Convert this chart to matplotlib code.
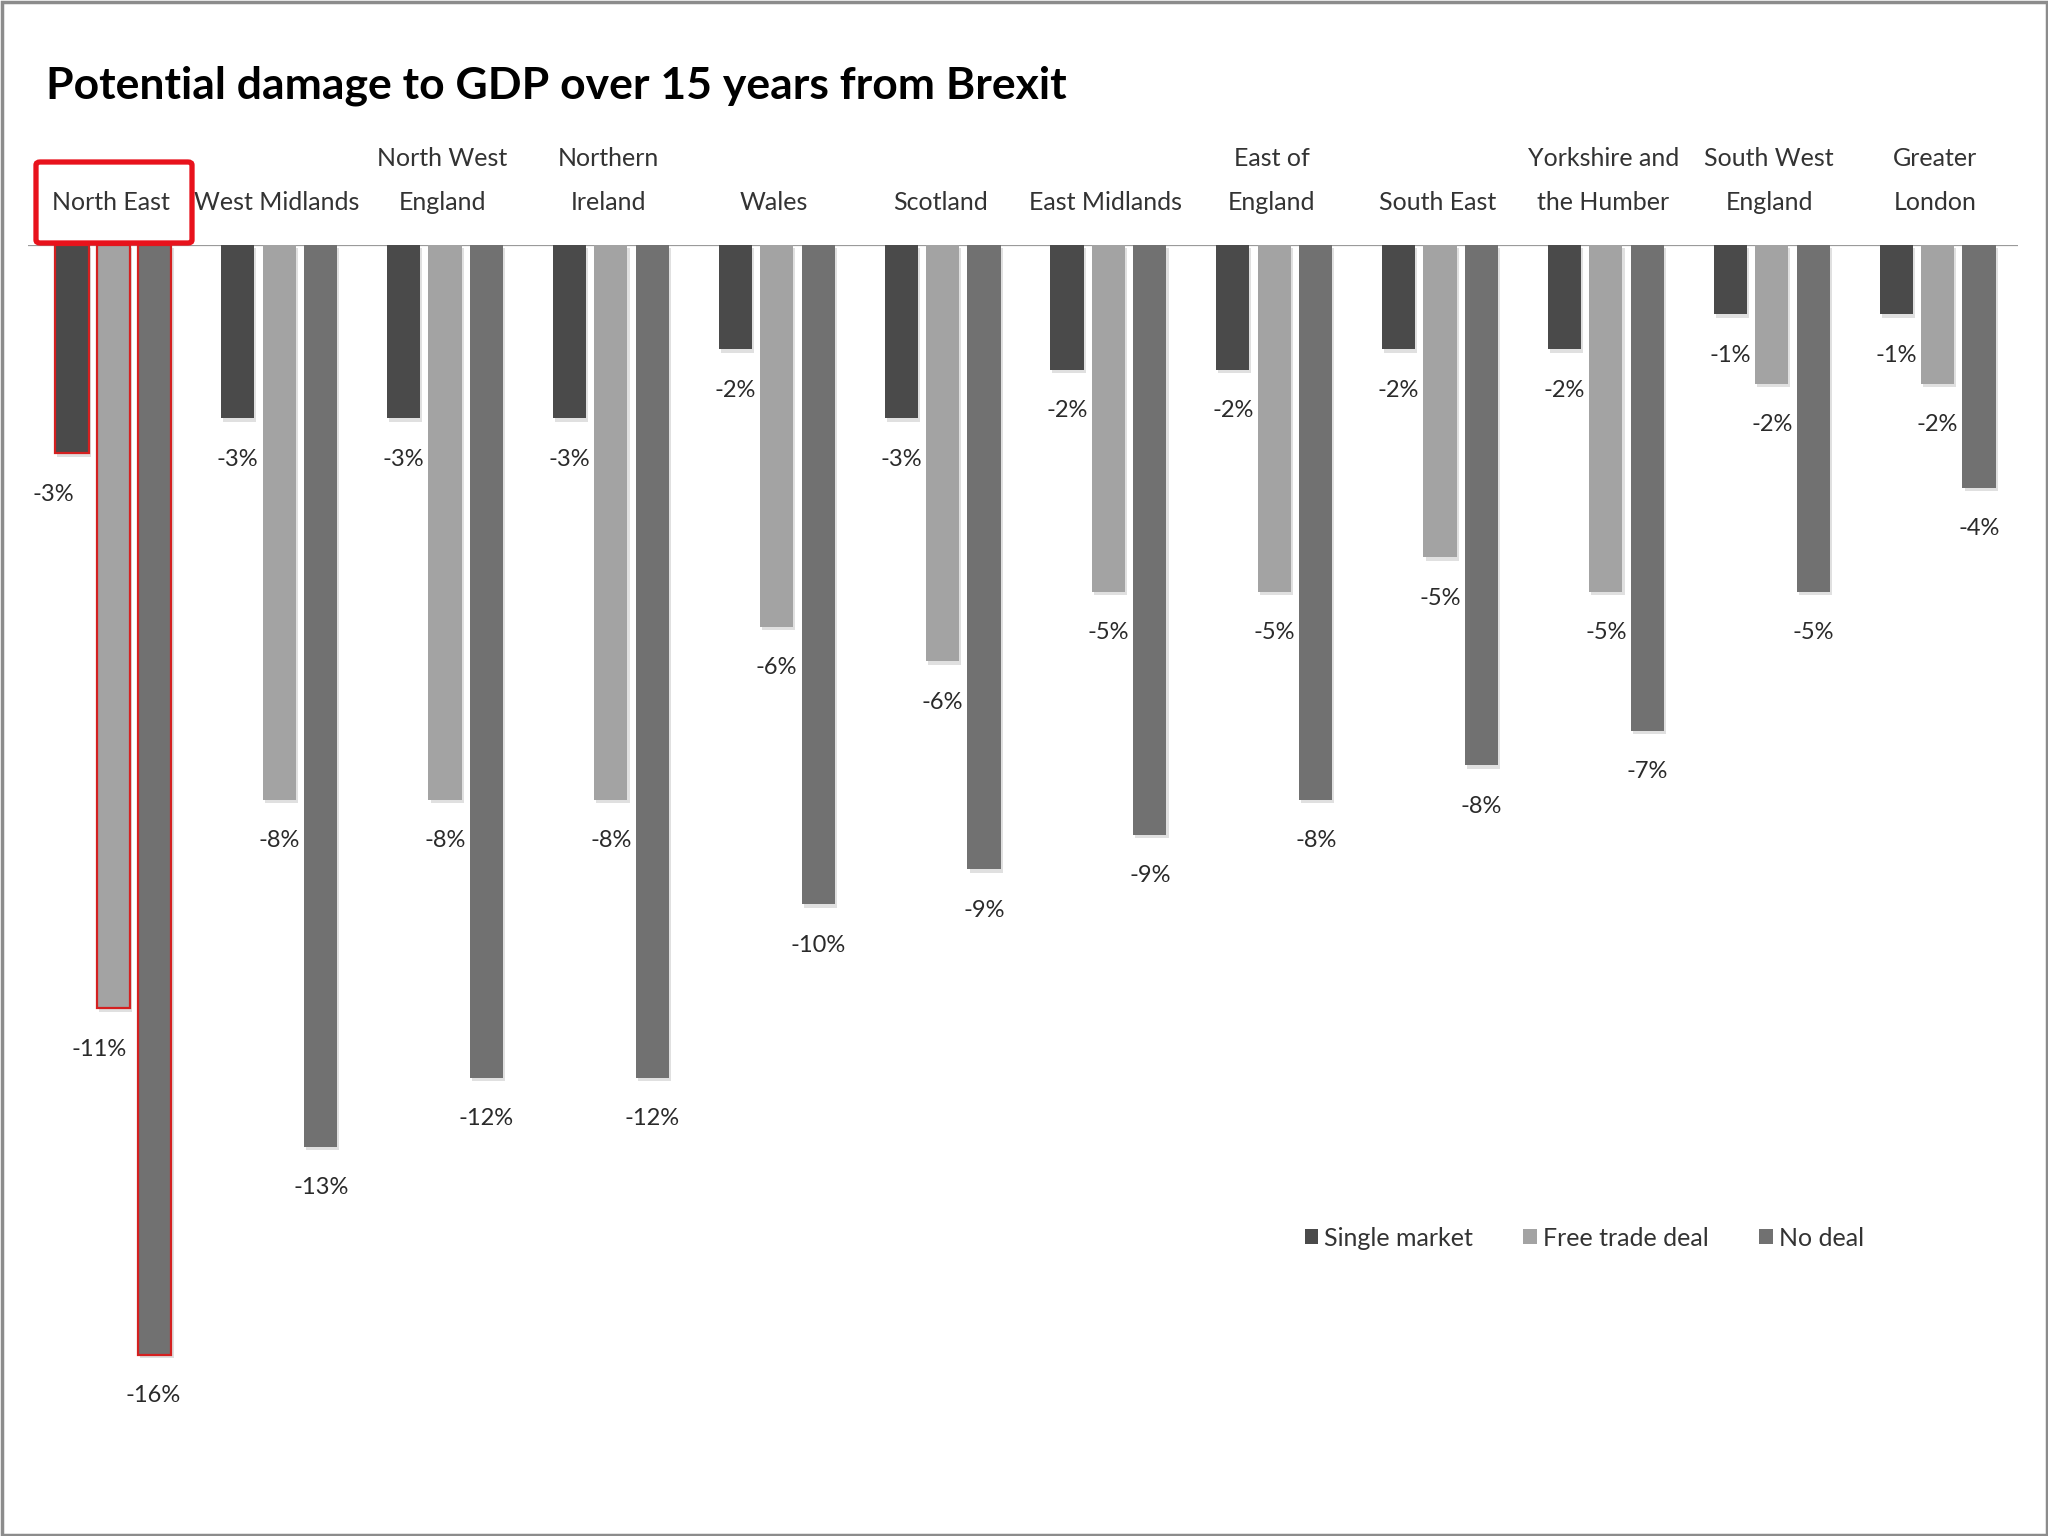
import matplotlib
matplotlib.use("Agg")
import matplotlib.pyplot as plt
import matplotlib.patches as mpatches
import matplotlib.patheffects as pe
import numpy as np

# ---------------- data ----------------
regions = ["North East", "West Midlands", "North West\nEngland", "Northern\nIreland",
           "Wales", "Scotland", "East Midlands", "East of\nEngland", "South East",
           "Yorkshire and\nthe Humber", "South West\nEngland", "Greater\nLondon"]
series_names = ["Single market", "Free trade deal", "No deal"]
single_market = [-3.0, -2.5, -2.5, -2.5, -1.5, -2.5, -1.8, -1.8, -1.5, -1.5, -1.0, -1.0]
free_trade = [-11.0, -8.0, -8.0, -8.0, -5.5, -6.0, -5.0, -5.0, -4.5, -5.0, -2.0, -2.0]
no_deal = [-16.0, -13.0, -12.0, -12.0, -9.5, -9.0, -8.5, -8.0, -7.5, -7.0, -5.0, -3.5]
title = "Potential damage to GDP over 15 years from Brexit"
highlight = "North East"

colors = ["#4a4a4a", "#a3a3a3", "#717171"]
FONT = "Lato"
plt.rcParams["font.family"] = [FONT, "DejaVu Sans"]

W, H = 2048, 1536
fig = plt.figure(figsize=(W / 100, H / 100), dpi=100)
fig.patch.set_facecolor("white")

# axes geometry (pixels)
ax_left, ax_right = 28, 2018
zero_y = 245
px_per_unit = 69.375
ymin = -17.5
ax_bottom_px = zero_y + (-ymin) * px_per_unit
ax = fig.add_axes([ax_left / W, 1 - ax_bottom_px / H, (ax_right - ax_left) / W,
                   (ax_bottom_px - zero_y) / H])
ax.set_xlim(-0.5, len(regions) - 0.5)
ax.set_ylim(ymin, 0)
ax.axis("off")

x = np.arange(len(regions))
width = 0.2
offsets = [-0.25, 0.0, 0.25]
shadow = [pe.SimplePatchShadow(offset=(1.5, -2.5), shadow_rgbFace="#000000", alpha=0.12), pe.Normal()]

all_series = [single_market, free_trade, no_deal]
# label x-shift (points) for highlighted group, per series
hl_dx = [-13.5, -10.5, -1.5]
for i, (vals, name, col) in enumerate(zip(all_series, series_names, colors)):
    b = ax.bar(x + offsets[i] + 0.015, vals, width=width, color=col, label=name,
               zorder=3, linewidth=0)
    for j, rect in enumerate(b):
        rect.set_path_effects(shadow)
        if regions[j] == highlight:
            rect.set_edgecolor("#d42020")
            rect.set_linewidth(1.6)
    for j, v in enumerate(vals):
        lab = f"-{int(np.floor(abs(v) + 0.5))}%"
        dx = hl_dx[i] if regions[j] == highlight else 0
        ax.annotate(lab, (x[j] + offsets[i] + 0.015, v), xytext=(dx, -29.5),
                    textcoords="offset points", ha="center", va="center",
                    fontsize=17, color="#2a2a2a", zorder=4)

# zero line
ax.axhline(0, color="#9a9a9a", lw=1.6, zorder=2)

# category labels (above the zero line)
for j, name in enumerate(regions):
    lines = name.split("\n")
    for k, line in enumerate(reversed(lines)):
        ax.annotate(line, (x[j], 0), xytext=(0, (245 - 202 + 44 * k) * 0.72),
                    textcoords="offset points", ha="center", va="center",
                    fontsize=18, color="#333333", annotation_clip=False)

# red highlight box around North East label
fig.patches.append(mpatches.FancyBboxPatch((36 / W, 1 - 243 / H), (192 - 36) / W, (243 - 162) / H,
                                           boxstyle="round,pad=0,rounding_size=0.002",
                                           transform=fig.transFigure, fill=False,
                                           edgecolor="#e8121c", linewidth=3.8, zorder=5))

# title
fig.text(46 / W, 1 - 86 / H, title, fontsize=32, fontweight="bold", color="black",
         ha="left", va="center")

# legend
handles = [mpatches.Patch(facecolor=c, edgecolor="none") for c in colors]
fig.legend(handles=handles, labels=series_names, loc="center left",
           bbox_to_anchor=(1282 / W, 1 - 1238 / H), ncol=3, frameon=False,
           fontsize=18, handlelength=0.55, handleheight=0.55, handletextpad=0.25,
           columnspacing=2.0, labelcolor="#333333")

# figure border
fig.patches.append(mpatches.Rectangle((1.5 / W, 1.5 / H), 1 - 3 / W, 1 - 3 / H,
                                      transform=fig.transFigure, fill=False,
                                      edgecolor="#8c8c8c", linewidth=2.5, zorder=10))

fig.savefig("out.png", dpi=100, facecolor="white")
